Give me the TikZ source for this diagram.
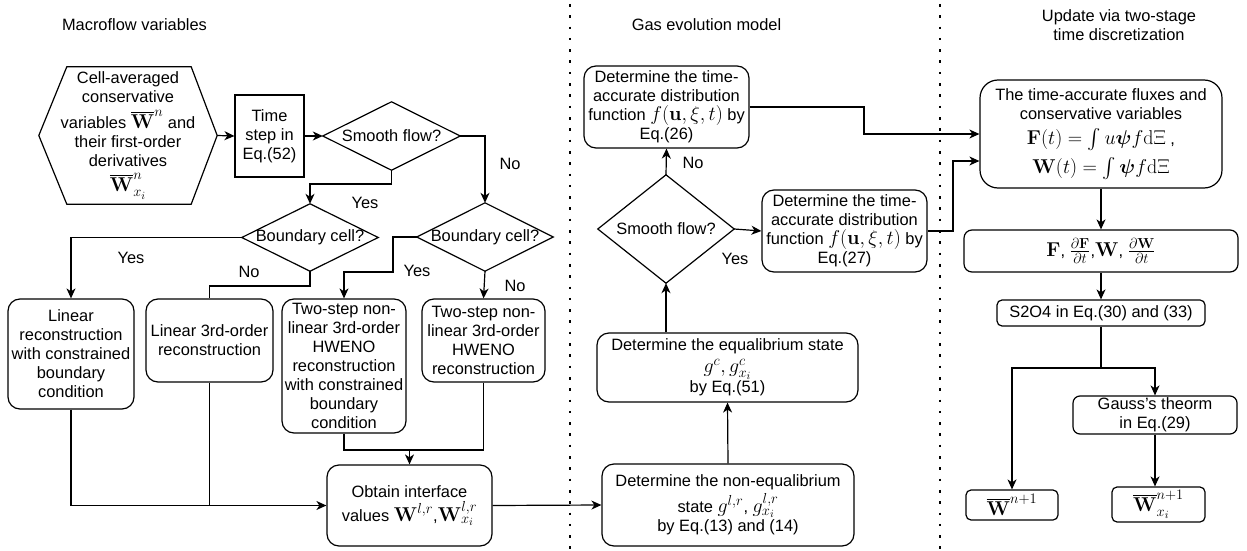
\RequirePackage{fix-cm}
\documentclass[tikz,border=0pt]{standalone}
\usepackage[no-math]{fontspec}
\setmainfont{Liberation Sans}
\usepackage{amsmath,amssymb,bm}
\usetikzlibrary{arrows.meta}
\DeclareMathSizes{16.4}{20}{14.5}{11}

\begin{document}
\begin{tikzpicture}[x=1pt,y=-1pt,
  every node/.style={font=\fontsize{16.4}{19}\selectfont, inner sep=0pt, align=center},
  box/.style={draw, line width=1.2pt, rounded corners=12pt},
  sqbox/.style={draw, line width=1.1pt},
  shapeline/.style={line width=1.2pt, line join=miter},
  wire/.style={line width=1.2pt},
  flow/.style={line width=1.2pt, -{Stealth[length=10pt,width=9pt,inset=3pt]}},
  sep/.style={line width=2.6pt, dash pattern=on 2.6pt off 8.7pt},
]
\useasboundingbox (0,0) rectangle (1247,551);

% column separators
\draw[sep] (570,4) -- (570,551);
\draw[sep] (940,4) -- (940,551);

% column titles
\node (t1) at (134.5,25) {Macroflow variables};
\node (t2) at (706.5,25) {Gas evolution model};
\node (t3) at (1119,25) {Update via two-stage\\time discretization};

% ---------- macroflow column ----------
\node[minimum width=178pt, minimum height=137pt] (hex) at (128,135.5)
  {Cell-averaged\\conservative\\[7pt]variables $\overline{\mathbf{W}}^{n}$ and\\their first-order\\derivatives\\[6pt]$\overline{\mathbf{W}}^{n}_{x_i}$};
\draw[shapeline] (hex.west) -- ([xshift=28pt]hex.north west) -- ([xshift=-26pt]hex.north east)
  -- (hex.east) -- ([xshift=-26pt]hex.south east) -- ([xshift=28pt]hex.south west) -- cycle;

\node[sqbox, minimum width=69pt, minimum height=82pt] (tstep) at (269.5,136) {Time\\step in\\Eq.(52)};

\node[minimum width=137pt, minimum height=68pt] (d1) at (391.5,136) {Smooth flow?};
\draw[shapeline] (d1.west) -- (d1.north) -- (d1.east) -- (d1.south) -- cycle;

\node[minimum width=136pt, minimum height=67pt] (b1) at (310,237.5) {Boundary cell?};
\draw[shapeline] (b1.west) -- (b1.north) -- (b1.east) -- (b1.south) -- cycle;

\node[minimum width=136pt, minimum height=68pt] (b2) at (485,237) {Boundary cell?};
\draw[shapeline] (b2.west) -- (b2.north) -- (b2.east) -- (b2.south) -- cycle;

\node[box, minimum width=126pt, minimum height=110pt] (r1) at (71,354)
  {Linear\\reconstruction\\with constrained\\boundary\\condition};
\node[box, minimum width=127pt, minimum height=83pt] (r2) at (209.5,340.5)
  {Linear 3rd-order\\reconstruction};
\node[box, minimum width=124pt, minimum height=134pt] (r3) at (344,366)
  {Two-step non-\\linear 3rd-order\\HWENO\\reconstruction\\with constrained\\boundary\\condition};
\node[box, minimum width=123pt, minimum height=83pt] (r4) at (483.5,340.5)
  {Two-step non-\\linear 3rd-order\\HWENO\\reconstruction};

\node[box, minimum width=165pt, minimum height=81pt] (obt) at (409.5,505.5)
  {Obtain interface\\[3pt]values $\mathbf{W}^{l,r}$,$\mathbf{W}^{l,r}_{x_i}$};

% ---------- gas evolution column ----------
\node[box, minimum width=252pt, minimum height=82pt] (neq) at (728,505)
  {Determine the non-equalibrium\\[2pt]state $g^{l,r}$, $g^{l,r}_{x_i}$\\by Eq.(13) and (14)};
\node[box, minimum width=261pt, minimum height=69pt] (eq) at (727.5,367.5)
  {Determine the equalibrium state\\[3pt]$g^{c}, g^{c}_{x_i}$\\by Eq.(51)};

\node[minimum width=136pt, minimum height=108pt] (d2) at (666,229) {Smooth flow?};
\draw[shapeline] (d2.west) -- (d2.north) -- (d2.east) -- (d2.south) -- cycle;

\node[box, minimum width=165pt, minimum height=82pt] (f26) at (666.5,107)
  {Determine the time-\\accurate distribution\\function $f(\mathbf{u},\xi,t)$ by\\Eq.(26)};
\node[box, minimum width=165pt, minimum height=82pt] (f27) at (844.5,231)
  {Determine the time-\\accurate distribution\\function $f(\mathbf{u},\xi,t)$ by\\Eq.(27)};

% ---------- update column ----------
\node[box, rounded corners=18pt, minimum width=242pt, minimum height=108pt] (flux) at (1101,134)
  {The time-accurate fluxes and\\conservative variables\\[6pt]$\mathbf{F}(t)=\int u\bm{\psi}f\mathrm{d}\Xi$ ,\\[6pt]$\mathbf{W}(t)=\int\bm{\psi}f\mathrm{d}\Xi$};
\node[box, rounded corners=8pt, minimum width=274pt, minimum height=42pt] (fw) at (1101,251)
  {$\mathbf{F}$, $\frac{\partial\mathbf{F}}{\partial t}$,$\mathbf{W}$, $\frac{\partial\mathbf{W}}{\partial t}$};
\node[box, rounded corners=5pt, minimum width=208pt, minimum height=26pt] (s2o4) at (1101,313)
  {S2O4 in Eq.(30) and (33)};
\node[box, rounded corners=7pt, minimum width=164pt, minimum height=38pt] (gauss) at (1155,415)
  {Gauss's theorm\\in Eq.(29)};
\node[box, rounded corners=5pt, minimum width=92pt, minimum height=30pt] (wn) at (1012,505)
  {$\overline{\mathbf{W}}^{n+1}$};
\node[box, rounded corners=5pt, minimum width=93pt, minimum height=35pt] (wx) at (1158.5,504.5)
  {$\overline{\mathbf{W}}^{n+1}_{x_i}$};

% ---------- connectors ----------
\coordinate (c1) at (391.5,184);
\coordinate (c2) at (310,286);
\coordinate (c3) at (393,237);
\coordinate (c4) at (393,272);
\coordinate (j1) at (409.5,450);
\coordinate (c5) at (864,107);
\coordinate (c6) at (864,134);
\coordinate (c7) at (953,231);
\coordinate (c8) at (953,161);
\coordinate (c9) at (1101,368);

\draw[flow] (hex.east) -- (tstep.west);
\draw[flow] (tstep.east) -- (d1.west);
\draw[flow] (d1.south) -- (c1) -| (b1.north);
\draw[flow] (d1.east) -| (b2.north);
\draw[flow] (b1.west) -| (r1.north);
\draw[wire] (b1.south) -- (c2) -| (r2.north);
\draw[flow] (b2.west) -- (c3) -- (c4) -| (r3.north);
\draw[flow] (b2.south) -- (r4.north);
\draw[wire] (r3.south) |- (j1);
\draw[wire] (r4.south) |- (j1);
\draw[flow] (j1) -- (obt.north);
\draw[flow] (r1.south) |- (obt.west);
\draw[wire] (r2.south) |- (obt.west);
\draw[flow] (obt.east) -- (neq.west);
\draw[flow] (neq.north) -- (eq.south);
\draw[flow] (d2.south |- eq.north) -- (d2.south);
\draw[flow] (d2.north) -- (f26.south);
\draw[flow] (d2.east) -- (f27.west);
\draw[flow] (f26.east) -- (c5) -- (c6) -- (flux.west |- c6);
\draw[flow] (f27.east) -- (c7) -- (c8) -- (flux.west |- c8);
\draw[flow] (flux.south) -- (fw.north);
\draw[flow] (fw.south) -- (s2o4.north);
\draw[flow] (s2o4.south) -- (c9) -| (wn.north);
\draw[flow] (c9) -| (gauss.north);
\draw[flow] (gauss.south) -- (gauss.south |- wx.north);

% branch labels
\node (l1) at (365,203) {Yes};
\node (l2) at (510,164) {No};
\node (l3) at (131,258) {Yes};
\node (l4) at (249,272) {No};
\node (l5) at (417,271) {Yes};
\node (l6) at (515,286) {No};
\node (l7) at (693,163) {No};
\node (l8) at (735,259) {Yes};
\end{tikzpicture}
\end{document}
